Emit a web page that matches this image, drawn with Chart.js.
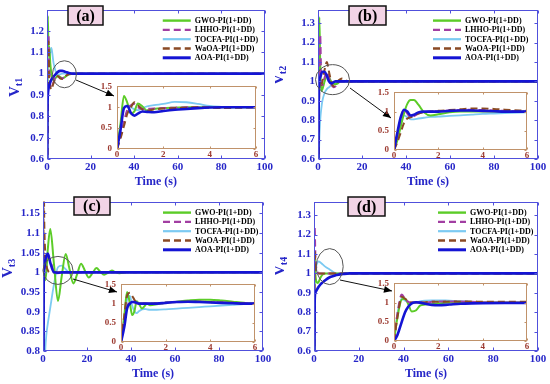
<!DOCTYPE html>
<html><head><meta charset="utf-8">
<script src="https://cdn.jsdelivr.net/npm/chart.js@4.4.1/dist/chart.umd.min.js"></script>
<style>
html,body{margin:0;padding:0;background:#fff;}
#wrap{position:relative;width:550px;height:384px;overflow:hidden;background:#fff;}
canvas{position:absolute;}
</style></head><body>
<div id="wrap">
<canvas id="mainA" width="275" height="192" style="left:0;top:0"></canvas>
<canvas id="mainB" width="275" height="192" style="left:275px;top:0"></canvas>
<canvas id="mainC" width="275" height="192" style="left:0;top:192px"></canvas>
<canvas id="mainD" width="275" height="192" style="left:275px;top:192px"></canvas>
<canvas id="insA" width="160" height="86" style="left:100px;top:76px"></canvas>
<canvas id="insB" width="154" height="81" style="left:377px;top:82px"></canvas>
<canvas id="insC" width="155" height="81" style="left:104px;top:274px"></canvas>
<canvas id="insD" width="154" height="81" style="left:377px;top:273px"></canvas>
</div>
<script>
// ---------------- DATA ----------------
const seriesNames = ['GWO-PI(1+DD)', 'LHHO-PI(1+DD)', 'TOCFA-PI(1+DD)', 'WaOA-PI(1+DD)', 'AOA-PI(1+DD)'];
const mainXTicks = [0, 20, 40, 60, 80, 100];
const insetXTicks = [0, 2, 4, 6];
const insetYTicks = [0, 0.5, 1, 1.5];
const yTicksA = [0.6, 0.7, 0.8, 0.9, 1, 1.1, 1.2];
const yTicksB = [0.6, 0.7, 0.8, 0.9, 1, 1.1, 1.2, 1.3];
const yTicksC = [0.8, 0.85, 0.9, 0.95, 1, 1.05, 1.1, 1.15];
const yTicksD = [0.6, 0.7, 0.8, 0.9, 1, 1.1, 1.2, 1.3];

// Panel (a) V_t1, main view
const tMainA     = [0, 0.2, 0.4, 0.7, 1, 1.5, 2, 2.5, 3, 4, 5, 6, 7, 8, 9, 10, 12, 15, 20, 100];
const gwoMainA   = [0, 0.95, 1.27, 1.1, 1.13, 1.05, 1.0, 0.975, 0.97, 0.98, 0.99, 0.985, 0.978, 0.982, 0.99, 0.996, 1.0, 1.0, 1.0, 1.0];
const lhhoMainA  = [0, 0.7, 1.0, 1.18, 1.03, 0.95, 0.935, 0.945, 0.96, 0.985, 0.99, 0.98, 0.977, 0.985, 0.993, 0.998, 1.0, 1.0, 1.0, 1.0];
const tocfaMainA = [0, 0.8, 1.04, 1.05, 1.06, 1.1, 1.12, 1.09, 1.05, 1.01, 0.995, 0.997, 1.0, 1.0, 1.0, 1.0, 1.0, 1.0, 1.0, 1.0];
const waoaMainA  = [0, 0.65, 0.95, 1.15, 1.0, 0.94, 0.925, 0.94, 0.955, 0.98, 0.988, 0.978, 0.975, 0.983, 0.992, 0.998, 1.0, 1.0, 1.0, 1.0];
const aoaMainA   = [0, 0.8, 0.9, 0.93, 0.945, 0.96, 0.972, 0.98, 0.986, 0.998, 1.008, 1.013, 1.013, 1.01, 1.006, 1.003, 1.0, 1.0, 1.0, 1.0];

// Panel (b) V_t2, main view
const tMainB     = [0, 0.3, 0.6, 1, 1.5, 2, 3, 4, 5, 6, 7, 8, 9, 10, 11, 12, 14, 20, 100];
const gwoMainB   = [0, 0.9, 1.33, 1.1, 0.95, 0.96, 1.0, 1.03, 1.02, 1.0, 0.99, 0.985, 0.99, 1.0, 1.0, 1.0, 1.0, 1.0, 1.0];
const lhhoMainB  = [0, 0.8, 1.05, 1.24, 1.0, 0.98, 1.02, 1.05, 1.02, 0.985, 0.97, 0.975, 0.99, 1.0, 1.0, 1.0, 1.0, 1.0, 1.0];
const tocfaMainB = [0, 0.5, 0.7, 0.8, 0.86, 0.9, 0.94, 0.96, 0.97, 0.98, 0.985, 0.99, 0.995, 1.0, 1.0, 1.0, 1.0, 1.0, 1.0];
const waoaMainB  = [0, 0.7, 0.95, 1.0, 0.98, 1.0, 1.06, 1.1, 1.05, 1.0, 0.975, 0.98, 1.0, 1.01, 1.015, 1.01, 1.0, 1.0, 1.0];
const aoaMainB   = [0, 0.85, 1.0, 1.02, 1.04, 1.05, 1.05, 1.03, 1.0, 0.99, 0.995, 1.0, 1.0, 1.0, 1.0, 1.0, 1.0, 1.0, 1.0];

// Panel (c) V_t3, main view
const tMainC     = [0, 0.3, 0.6, 1, 1.5, 2.2, 3.3, 5, 6.8, 8.5, 10.3, 12, 13.8, 15.5, 17.3, 19, 20.8, 22.5, 24.3, 26, 27.8, 29.5, 31.3, 33, 34.8, 38, 45, 100];
const gwoMainC   = [0, 0.95, 0.99, 0.98, 1.0, 1.06, 1.11, 1.02, 0.927, 0.99, 1.047, 1.01, 0.972, 0.995, 1.022, 1.005, 0.987, 0.998, 1.011, 1.002, 0.994, 0.999, 1.005, 1.0, 0.998, 1.0, 1.0, 1.0];
const lhhoMainC  = [0, 0.9, 1.0, 1.02, 1.035, 1.04, 1.03, 1.0, 0.998, 1.0, 1.0, 1.0, 1.0, 1.0, 1.0, 1.0, 1.0, 1.0, 1.0, 1.0, 1.0, 1.0, 1.0, 1.0, 1.0, 1.0, 1.0, 1.0];
const tocfaMainC = [0, 0.6, 0.74, 0.8, 0.84, 0.87, 0.91, 0.97, 1.013, 1.017, 1.008, 1.0, 1.0, 1.0, 1.0, 1.0, 1.0, 1.0, 1.0, 1.0, 1.0, 1.0, 1.0, 1.0, 1.0, 1.0, 1.0, 1.0];
const waoaMainC  = [0, 1.25, 1.12, 1.05, 1.02, 1.005, 1.0, 1.0, 1.0, 1.0, 1.0, 1.0, 1.0, 1.0, 1.0, 1.0, 1.0, 1.0, 1.0, 1.0, 1.0, 1.0, 1.0, 1.0, 1.0, 1.0, 1.0, 1.0];
const aoaMainC   = [0, 0.97, 1.01, 1.03, 1.042, 1.048, 1.025, 1.0, 0.999, 1.0, 1.0, 1.0, 1.0, 1.0, 1.0, 1.0, 1.0, 1.0, 1.0, 1.0, 1.0, 1.0, 1.0, 1.0, 1.0, 1.0, 1.0, 1.0];

// Panel (d) V_t4, main view
const tMainD     = [0, 0.3, 0.6, 1, 1.5, 2, 3, 4, 5, 7, 9, 10, 13, 16, 20, 100];
const gwoMainD   = [0, 1.1, 1.0, 0.96, 0.95, 0.955, 0.98, 0.995, 1.0, 1.0, 1.0, 1.0, 1.0, 1.0, 1.0, 1.0];
const lhhoMainD  = [0, 1.24, 1.1, 1.03, 1.01, 1.0, 1.0, 1.0, 1.0, 1.0, 1.0, 1.0, 1.0, 1.0, 1.0, 1.0];
const tocfaMainD = [0, 0.95, 1.02, 1.04, 1.055, 1.062, 1.055, 1.045, 1.035, 1.02, 1.005, 1.0, 1.0, 1.0, 1.0, 1.0];
const waoaMainD  = [0, 1.12, 1.05, 1.01, 1.0, 1.0, 1.0, 1.0, 1.0, 1.0, 1.0, 1.0, 1.0, 1.0, 1.0, 1.0];
const aoaMainD   = [0, 0.85, 0.9, 0.91, 0.92, 0.93, 0.945, 0.955, 0.965, 0.98, 0.988, 0.992, 0.997, 1.0, 1.0, 1.0];

// Insets (0-6 s zoom)
const tInsA     = [0, 0.15, 0.3, 0.45, 0.6, 0.75, 0.9, 1.1, 1.3, 1.6, 2, 2.5, 3, 3.5, 4, 4.5, 5, 6];
const gwoInsA   = [0, 0.6, 1.27, 1.1, 0.85, 0.9, 1.09, 1.02, 0.92, 0.96, 0.98, 0.99, 1.0, 1.0, 1.0, 1.0, 1.0, 1.0];
const lhhoInsA  = [0, 0.3, 0.65, 0.95, 1.05, 1.08, 1.0, 0.95, 0.96, 0.97, 0.98, 0.99, 1.0, 1.0, 1.0, 0.99, 1.0, 1.0];
const tocfaInsA = [0, 0.55, 1.0, 1.05, 1.0, 0.95, 0.93, 0.98, 1.02, 1.05, 1.08, 1.13, 1.12, 1.08, 1.03, 1.01, 1.0, 1.0];
const waoaInsA  = [0, 0.25, 0.55, 0.85, 1.0, 1.12, 1.05, 0.95, 0.92, 0.95, 0.97, 0.98, 0.99, 1.0, 0.99, 0.98, 0.985, 1.0];
const aoaInsA   = [0, 0.45, 0.98, 1.03, 0.86, 0.8, 0.85, 0.9, 0.89, 0.88, 0.91, 0.94, 0.96, 0.98, 0.995, 1.0, 1.0, 1.0];

const tInsB     = [0, 0.15, 0.3, 0.45, 0.6, 0.75, 0.9, 1.1, 1.35, 1.65, 2, 2.5, 3, 3.5, 4, 4.5, 5, 6];
const gwoInsB   = [0, 0.25, 0.6, 0.95, 1.2, 1.3, 1.3, 1.18, 0.98, 0.9, 0.93, 0.98, 1.0, 1.0, 1.0, 1.0, 1.0, 1.0];
const lhhoInsB  = [0, 0.4, 0.8, 1.05, 0.95, 0.85, 0.88, 0.95, 0.98, 1.0, 1.01, 1.03, 1.04, 1.05, 1.04, 1.03, 1.02, 1.0];
const tocfaInsB = [0, 0.35, 0.7, 0.9, 0.85, 0.8, 0.8, 0.82, 0.84, 0.86, 0.87, 0.89, 0.9, 0.92, 0.94, 0.95, 0.96, 0.98];
const waoaInsB  = [0, 0.2, 0.45, 0.7, 0.82, 0.85, 0.9, 0.95, 0.98, 1.0, 1.02, 1.04, 1.06, 1.08, 1.08, 1.07, 1.05, 1.02];
const aoaInsB   = [0, 0.45, 0.85, 1.05, 1.0, 0.9, 0.92, 0.98, 1.0, 1.0, 1.0, 1.02, 1.03, 1.03, 1.02, 1.01, 1.0, 1.0];

const tInsC     = [0, 0.15, 0.27, 0.4, 0.5, 0.6, 0.7, 0.8, 0.94, 1.05, 1.16, 1.3, 1.6, 2, 2.5, 3, 3.5, 4, 4.5, 5, 5.5, 6];
const gwoInsC   = [0, 0.7, 1.3, 1.0, 0.7, 0.8, 1.06, 1.0, 0.87, 0.93, 1.0, 0.96, 0.98, 1.02, 1.05, 1.08, 1.1, 1.1, 1.08, 1.05, 1.02, 0.98];
const lhhoInsC  = [0, 0.5, 0.9, 1.05, 1.05, 1.03, 1.0, 1.0, 1.0, 1.0, 1.0, 1.0, 1.0, 1.02, 1.04, 1.05, 1.05, 1.04, 1.03, 1.02, 1.01, 1.0];
const tocfaInsC = [0, 0.6, 1.1, 1.2, 0.95, 0.8, 0.75, 0.8, 0.85, 0.86, 0.85, 0.84, 0.84, 0.85, 0.87, 0.89, 0.91, 0.93, 0.95, 0.97, 0.99, 1.0];
const waoaInsC  = [0, 0.7, 1.2, 1.28, 1.2, 1.1, 1.02, 1.0, 1.0, 1.0, 1.0, 1.0, 1.0, 1.02, 1.04, 1.05, 1.05, 1.04, 1.03, 1.02, 1.01, 1.0];
const aoaInsC   = [0, 0.4, 0.87, 1.0, 1.04, 1.04, 1.02, 1.0, 1.0, 1.0, 1.0, 1.0, 1.0, 1.02, 1.04, 1.05, 1.04, 1.03, 1.02, 1.01, 1.0, 1.0];

const tInsD     = [0, 0.15, 0.35, 0.5, 0.65, 0.8, 1, 1.17, 1.4, 1.7, 2, 2.5, 3, 3.5, 4, 5, 6];
const gwoInsD   = [0, 0.6, 1.08, 1.1, 0.95, 0.77, 0.8, 0.92, 0.95, 0.96, 0.98, 1.0, 1.0, 1.0, 1.0, 1.0, 1.0];
const lhhoInsD  = [0, 0.7, 1.21, 1.1, 1.02, 1.0, 1.0, 1.0, 1.0, 1.02, 1.03, 1.03, 1.03, 1.02, 1.01, 1.0, 1.0];
const tocfaInsD = [0, 0.7, 1.1, 1.05, 1.0, 0.98, 1.0, 1.03, 1.05, 1.06, 1.06, 1.05, 1.04, 1.02, 1.01, 1.0, 1.0];
const waoaInsD  = [0, 0.6, 1.15, 1.1, 1.02, 1.0, 1.0, 1.0, 1.01, 1.02, 1.02, 1.03, 1.03, 1.03, 1.02, 1.02, 1.02];
const aoaInsD   = [0, 0.15, 0.5, 0.75, 0.9, 0.98, 1.01, 1.0, 0.97, 0.94, 0.93, 0.95, 0.97, 0.98, 0.985, 0.99, 0.99];

// ---------------- STYLE ----------------
const FONT = "'Liberation Serif','Times New Roman',serif";
const BLUE = '#2626c8';
const FRAME_BLUE = '#5050dc';
const INSET_FRAME = '#c0926a';
const INSET_TICK = '#9c3a30';
const seriesColors = ['#5ccc28', '#a23ea2', '#7ccaf2', '#8a4a24', '#1414d4'];
const seriesWidths = [2, 2, 1.8, 2, 2.6];
const seriesDash = [[], [7, 4], [], [7, 4], []];
const seriesOrder = [3, 2, 4, 1, 0];

function buildSets(t, vals) {
  return vals.map((v, i) => ({
    label: seriesNames[i],
    data: t.map((x, k) => ({ x: x, y: v[k] })),
    borderColor: seriesColors[i],
    borderWidth: seriesWidths[i],
    borderDash: seriesDash[i],
    order: seriesOrder[i],
    pointRadius: 0,
    fill: false,
    cubicInterpolationMode: 'monotone'
  }));
}

// ---------------- PLUGINS ----------------
const framePlugin = {
  id: 'frame',
  beforeDraw(chart, args, o) {
    if (!o.fill) return;
    const a = chart.chartArea, ctx = chart.ctx;
    ctx.save(); ctx.fillStyle = o.fill; ctx.fillRect(a.left, a.top, a.right - a.left, a.bottom - a.top); ctx.restore();
  },
  afterDraw(chart, args, o) {
    const { ctx, chartArea: a, scales } = chart;
    const L = Math.round(a.left) + 0.5, R = Math.round(a.right) - 0.5;
    const T = Math.round(a.top) + 0.5, B = Math.round(a.bottom) - 0.5;
    ctx.save();
    ctx.strokeStyle = o.color; ctx.lineWidth = 1;
    ctx.strokeRect(L, T, R - L, B - T);
    ctx.beginPath();
    scales.x.ticks.forEach(t => {
      const p = Math.round(scales.x.getPixelForValue(t.value)) + 0.5;
      ctx.moveTo(p, B); ctx.lineTo(p, B - o.tick);
      ctx.moveTo(p, T); ctx.lineTo(p, T + o.tick);
    });
    scales.y.ticks.forEach(t => {
      const p = Math.round(scales.y.getPixelForValue(t.value)) + 0.5;
      ctx.moveTo(L, p); ctx.lineTo(L + o.tick, p);
      ctx.moveTo(R, p); ctx.lineTo(R - o.tick, p);
    });
    ctx.stroke();
    ctx.restore();
  }
};

const legendPlugin = {
  id: 'inlegend',
  afterDraw(chart, args, o) {
    if (!o || !o.show) return;
    const { ctx, chartArea: a } = chart;
    ctx.save();
    ctx.font = 'bold ' + o.size + 'px ' + FONT;
    ctx.textBaseline = 'middle'; ctx.textAlign = 'left';
    chart.data.datasets.forEach((d, i) => {
      const y = a.top + o.top + i * o.row;
      const x0 = a.right - o.right;
      ctx.beginPath();
      ctx.strokeStyle = d.borderColor; ctx.lineWidth = d.borderWidth + 0.4;
      ctx.setLineDash(d.borderDash || []);
      ctx.moveTo(x0, y); ctx.lineTo(x0 + o.len, y); ctx.stroke();
      ctx.setLineDash([]);
      ctx.fillStyle = '#000';
      ctx.fillText(d.label, x0 + o.len + o.gap, y + 0.5);
    });
    ctx.restore();
  }
};

const decoPlugin = {
  id: 'deco',
  afterDraw(chart, args, o) {
    if (!o || !o.show) return;
    const { ctx, scales: { x, y } } = chart;
    ctx.save();
    // zoom circle
    ctx.strokeStyle = '#555'; ctx.lineWidth = 1;
    ctx.beginPath();
    ctx.ellipse(x.getPixelForValue(o.circle.t), y.getPixelForValue(o.circle.v), o.circle.rx, o.circle.ry, 0, 0, Math.PI * 2);
    ctx.stroke();
    // arrow towards inset
    const [x1, y1, x2, y2] = o.arrow;
    ctx.strokeStyle = '#111'; ctx.lineWidth = 1;
    ctx.beginPath(); ctx.moveTo(x1, y1); ctx.lineTo(x2, y2); ctx.stroke();
    const ang = Math.atan2(y2 - y1, x2 - x1), hl = 8, hw = 3.5;
    ctx.fillStyle = '#000';
    ctx.beginPath(); ctx.moveTo(x2, y2);
    ctx.lineTo(x2 - hl * Math.cos(ang) + hw * Math.sin(ang), y2 - hl * Math.sin(ang) - hw * Math.cos(ang));
    ctx.lineTo(x2 - hl * Math.cos(ang) - hw * Math.sin(ang), y2 - hl * Math.sin(ang) + hw * Math.cos(ang));
    ctx.closePath(); ctx.fill();
    // panel label box
    const b = o.box;
    ctx.fillStyle = '#f2d4e6'; ctx.fillRect(b[0], b[1], b[2], b[3]);
    ctx.strokeStyle = '#111'; ctx.lineWidth = 1.5; ctx.strokeRect(b[0], b[1], b[2], b[3]);
    ctx.fillStyle = '#000'; ctx.font = 'bold 16px ' + FONT;
    ctx.textAlign = 'center'; ctx.textBaseline = 'middle';
    ctx.fillText(o.label, b[0] + b[2] / 2, b[1] + b[3] / 2 + 1);
    // y-axis title V with subscript
    ctx.translate(o.ytitle[0], o.ytitle[1]); ctx.rotate(-Math.PI / 2);
    ctx.textAlign = 'left'; ctx.textBaseline = 'alphabetic'; ctx.fillStyle = BLUE;
    ctx.font = 'bold 15px ' + FONT; ctx.fillText('V', 0, 0);
    const w = ctx.measureText('V').width;
    ctx.font = 'bold 10px ' + FONT; ctx.fillText(o.sub, w, 3);
    ctx.restore();
  }
};

// ---------------- CHARTS ----------------
function makeChart(id, t, vals, P) {
  const tickFont = { family: FONT, size: P.tickSize, weight: P.tickWeight };
  return new Chart(document.getElementById(id), {
    type: 'line',
    data: { datasets: buildSets(t, vals) },
    options: {
      responsive: false, animation: false, devicePixelRatio: 1, events: [],
      layout: { padding: { top: P.padT, right: P.padR, left: 0, bottom: 0 } },
      plugins: {
        legend: { display: false }, tooltip: { enabled: false },
        frame: { color: P.frameColor, tick: P.tick, fill: P.fill },
        inlegend: P.legend || { show: false },
        deco: P.deco || { show: false }
      },
      scales: {
        x: {
          type: 'linear', min: P.xMin, max: P.xMax,
          afterBuildTicks: s => { s.ticks = P.xTicks.map(v => ({ value: v })); },
          afterFit: s => { s.height = P.xH; },
          grid: { display: false, drawTicks: false }, border: { display: false },
          ticks: { font: tickFont, color: P.tickColor, padding: P.xPad, maxRotation: 0, autoSkip: false, callback: v => String(v) },
          title: P.xTitle ? { display: true, text: P.xTitle, font: { family: FONT, size: 12, weight: 'bold' }, color: BLUE, padding: { top: 0, bottom: 3 } } : { display: false }
        },
        y: {
          type: 'linear', min: P.yMin, max: P.yMax,
          afterBuildTicks: s => { s.ticks = P.yTicks.map(v => ({ value: v })); },
          afterFit: s => { s.width = P.yW; },
          grid: { display: false, drawTicks: false }, border: { display: false },
          ticks: { font: tickFont, color: P.tickColor, padding: P.yPad, autoSkip: false, callback: v => String(v) }
        }
      }
    },
    plugins: [framePlugin, legendPlugin, decoPlugin]
  });
}

const mainBase = { xMin: 0, xMax: 100, xTicks: mainXTicks, xH: 33, padT: 5, tickSize: 11, tickWeight: 'bold',
  tickColor: BLUE, xPad: 2, yPad: 3, frameColor: FRAME_BLUE, tick: 3, xTitle: 'Time (s)' };
const insBase = { xMin: 0, xMax: 6, xTicks: insetXTicks, yMin: 0, yMax: 1.5, yTicks: insetYTicks, xH: 13, yW: 17,
  padT: 7, padR: 4, tickSize: 9, tickWeight: 'bold', tickColor: INSET_TICK, xPad: 0, yPad: 5,
  frameColor: INSET_FRAME, tick: 2, fill: '#ffffff' };
const legBase = { show: true, size: 8, top: 11, row: 9.3, len: 28, gap: 4 };

makeChart('mainA', tMainA, [gwoMainA, lhhoMainA, tocfaMainA, waoaMainA, aoaMainA], Object.assign({}, mainBase, {
  yMin: 0.6, yMax: 1.3, yTicks: yTicksA, yW: 47, padR: 8,
  legend: Object.assign({}, legBase, { right: 102 }),
  deco: { show: true, label: '(a)', box: [68, 6, 35, 19], ytitle: [19, 97], sub: 't1',
          circle: { t: 8, v: 0.997, rx: 12, ry: 13.5 }, arrow: [76, 80, 114, 96] }
}));
makeChart('mainB', tMainB, [gwoMainB, lhhoMainB, tocfaMainB, waoaMainB, aoaMainB], Object.assign({}, mainBase, {
  yMin: 0.6, yMax: 1.37, yTicks: yTicksB, yW: 43, padR: 12,
  legend: Object.assign({}, legBase, { right: 105 }),
  deco: { show: true, label: '(b)', box: [74, 6, 37, 19], ytitle: [8, 85], sub: 't2',
          circle: { t: 6.6, v: 1.009, rx: 17, ry: 15 }, arrow: [75, 88, 116, 118] }
}));
makeChart('mainC', tMainC, [gwoMainC, lhhoMainC, tocfaMainC, waoaMainC, aoaMainC], Object.assign({}, mainBase, {
  yMin: 0.8, yMax: 1.18, yTicks: yTicksC, yW: 43, padR: 12,
  legend: Object.assign({}, legBase, { right: 100 }),
  deco: { show: true, label: '(c)', box: [74, 5, 36, 18], ytitle: [12, 86], sub: 't3',
          circle: { t: 6.8, v: 1.005, rx: 15, ry: 14 }, arrow: [73, 87, 117, 100] }
}));
makeChart('mainD', tMainD, [gwoMainD, lhhoMainD, tocfaMainD, waoaMainD, aoaMainD], Object.assign({}, mainBase, {
  yMin: 0.6, yMax: 1.37, yTicks: yTicksD, yW: 39, padR: 12,
  legend: Object.assign({}, legBase, { right: 100 }),
  deco: { show: true, label: '(d)', box: [73, 5, 37, 19], ytitle: [9, 84], sub: 't4',
          circle: { t: 7, v: 1.035, rx: 13.5, ry: 18 }, arrow: [65, 88, 117, 99] }
}));

makeChart('insA', tInsA, [gwoInsA, lhhoInsA, tocfaInsA, waoaInsA, aoaInsA], insBase);
makeChart('insB', tInsB, [gwoInsB, lhhoInsB, tocfaInsB, waoaInsB, aoaInsB], insBase);
makeChart('insC', tInsC, [gwoInsC, lhhoInsC, tocfaInsC, waoaInsC, aoaInsC], insBase);
makeChart('insD', tInsD, [gwoInsD, lhhoInsD, tocfaInsD, waoaInsD, aoaInsD], insBase);
</script>
</body></html>
